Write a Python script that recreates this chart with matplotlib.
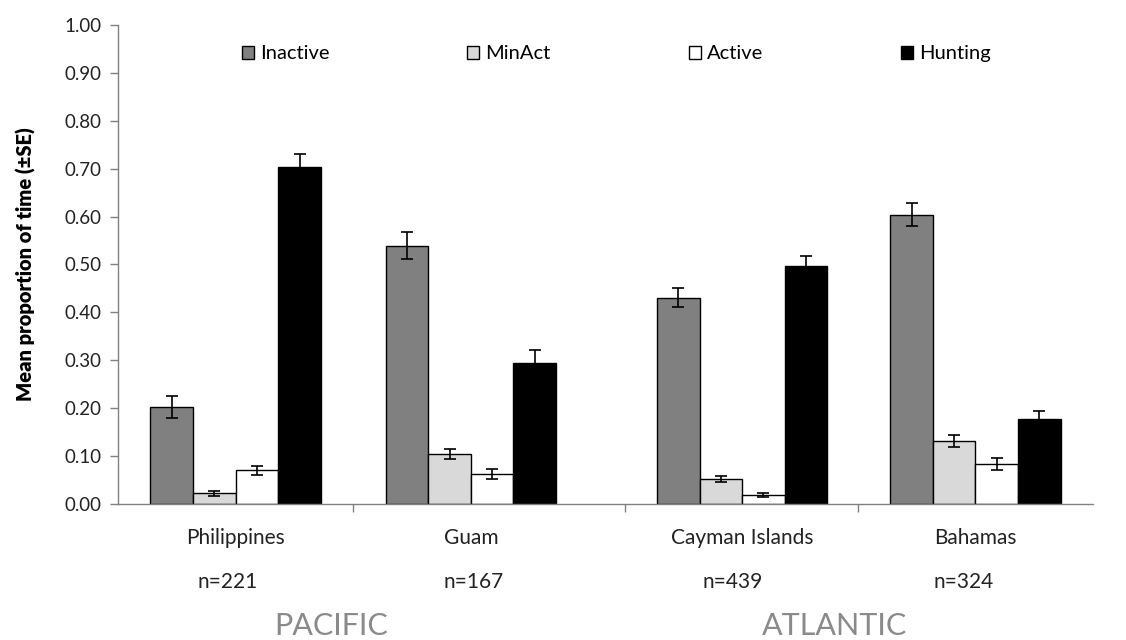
import numpy as np
import matplotlib.pyplot as plt

plt.rcParams['font.family'] = ['Lato', 'DejaVu Sans']

sites = ["Philippines", "Guam", "Cayman Islands", "Bahamas"]
n_labels = ["n=221", "n=167", "n=439", "n=324"]
regions = ["PACIFIC", "ATLANTIC"]
behaviours = ["Inactive", "MinAct", "Active", "Hunting"]

inactive = [0.203, 0.539, 0.431, 0.604]
minact = [0.022, 0.104, 0.052, 0.131]
active = [0.070, 0.063, 0.019, 0.083]
hunting = [0.704, 0.294, 0.497, 0.177]

inactive_se = [0.023, 0.028, 0.019, 0.024]
minact_se = [0.005, 0.011, 0.006, 0.012]
active_se = [0.010, 0.010, 0.004, 0.013]
hunting_se = [0.027, 0.027, 0.020, 0.018]

means = [inactive, minact, active, hunting]
errs = [inactive_se, minact_se, active_se, hunting_se]
colors = ["#808080", "#d9d9d9", "#ffffff", "#000000"]

# atlantic sites sit a little further right in the original
x = np.arange(len(sites)) + np.array([0, 0, 0.153, 0.145])
w = 0.181

fig = plt.figure(figsize=(11.26, 6.4), dpi=100)
ax = fig.add_axes([0.1048, 0.2125, 0.866, 0.7485])

for i, (m, e, c, lab) in enumerate(zip(means, errs, colors, behaviours)):
    ax.bar(x + (i - 1.5) * w, m, w, color=c, edgecolor="black", linewidth=1.0,
           label=lab, zorder=2)
    ax.errorbar(x + (i - 1.5) * w, m, yerr=e, fmt="none", ecolor="black",
                elinewidth=1.2, capsize=4, capthick=1.2, zorder=3)

ax.set_ylim(0, 1.0)
ax.set_xlim(-0.5, x[-1] + 0.5)
ax.set_yticks(np.arange(0, 1.01, 0.1))
ax.set_yticklabels(["%.2f" % v for v in np.arange(0, 1.01, 0.1)], fontsize=13.5, color="#222222")
ax.set_xticks([0.5, x[2] - 0.5, x[3] - 0.5])
ax.set_xticklabels([])
ax.tick_params(axis="both", length=6, color="#808080", width=1)
ax.tick_params(axis="y", pad=6)
for s in ["top", "right"]:
    ax.spines[s].set_visible(False)
for s in ["left", "bottom"]:
    ax.spines[s].set_color("#808080")
    ax.spines[s].set_linewidth(1.0)

ax.set_ylabel("Mean proportion of time (±SE)", fontsize=14.5, fontweight="heavy", labelpad=20)

tr = ax.get_xaxis_transform()
for xi, s in zip(x, sites):
    ax.text(xi, -0.071, s, transform=tr, ha="center", va="center", fontsize=15, color="#222222")
n_shift = [-0.034, 0.01, -0.04, -0.05]
for xi, dx, s in zip(x, n_shift, n_labels):
    ax.text(xi + dx, -0.163, s, transform=tr, ha="center", va="center", fontsize=15, color="#222222")
ax.text(0.404, -0.255, regions[0], transform=tr, ha="center", va="center", fontsize=22, color="#8a8a8a")
ax.text(2.545, -0.255, regions[1], transform=tr, ha="center", va="center", fontsize=22, color="#8a8a8a")

ax.legend(loc="upper center", bbox_to_anchor=(0.511, 0.995), ncol=4, frameon=False,
          fontsize=14.5, columnspacing=6.85, handlelength=0.6, handleheight=0.6,
          handletextpad=0.3)

fig.savefig("out.png", dpi=100)
